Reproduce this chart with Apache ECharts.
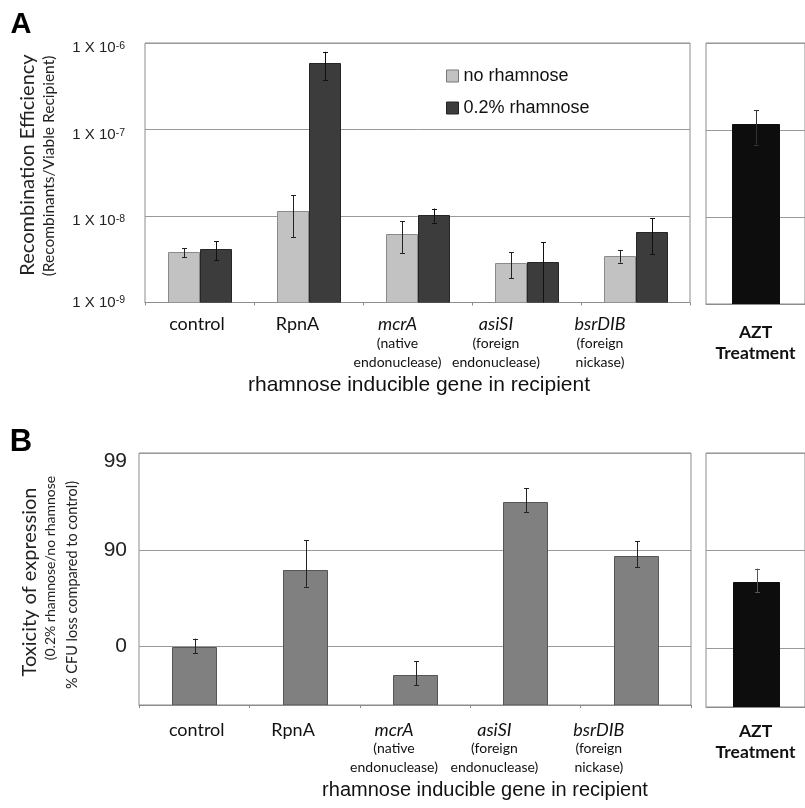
<!DOCTYPE html>
<html><head><meta charset="utf-8">
<script src="https://cdn.jsdelivr.net/npm/echarts@6/dist/echarts.min.js"></script>
<style>html,body{margin:0;padding:0;background:#fff}#c{width:805px;height:808px}</style>
</head><body><div id="c"></div>
<script>
// ---------- data ----------
const categories = ['control', 'RpnA', 'mcrA', 'asiSI', 'bsrDIB'];
const subtitles = [[], [], ['(native', 'endonuclease)'], ['(foreign', 'endonuclease)'], ['(foreign', 'nickase)']];
const italicCats = [false, false, true, true, true];
const seriesNames = ['no rhamnose', '0.2% rhamnose'];
const noRhamnose = [3.8e-9, 1.15e-8, 6.2e-9, 2.85e-9, 3.45e-9];
const noRhamnoseErr = [0.45e-9, 5.8e-9, 2.5e-9, 0.95e-9, 0.56e-9];
const rhamnose = [4.1e-9, 5.8e-7, 1.03e-8, 2.92e-9, 6.5e-9];
const rhamnoseErr = [1.0e-9, 2.1e-7, 1.9e-9, 2.05e-9, 2.9e-9];
const aztCategory = ['AZT Treatment'];
const aztRecomb = [1.18e-7];
const aztRecombErr = [0.5e-7];
const toxicity = [0, 84, -96, 96.8, 88.3];          // % CFU loss
const toxicityErr = [17.5, 8, 55, 0.9, 3.5];
const aztToxicity = [79];
const aztToxicityErr = [5.7];
const toxTicks = [99, 90, 0];
const recombExtent = [1e-9, 1e-6];
const toxLossExtent = [99, -300];

// ---------- helpers ----------
const LATO = 'Lato, "Open Sans", sans-serif';
const ARIAL = '"Liberation Sans", Arial, sans-serif';
const shiftsA = [-2.5, -11, -20, -30.5, -35.5];
const shiftsB = [2.5, -11.5, -21, -31, -37];

function buildRich(shifts) {
  const r = {};
  shifts.forEach((s, k) => {
    const pad = s < 0 ? [0, -2 * s, 0, 0] : [0, 0, 0, 2 * s];
    r['h' + k] = { fontFamily: LATO, fontSize: 18, lineHeight: 18, color: '#111',
      fontStyle: italicCats[k] ? 'italic' : 'normal', padding: pad };
    r['s' + k] = { fontFamily: LATO, fontSize: 14, lineHeight: 19, color: '#111', padding: pad };
  });
  return r;
}
function catFormatter(value, idx) {
  const k = categories.indexOf(value);
  const lines = ['{h' + k + '|' + value + '}'];
  subtitles[k].forEach(t => lines.push('{s' + k + '|' + t + '}'));
  return lines.join('\n');
}

function withErr(vals, errs) {
  return vals.map((v, k) => [k, v, v - errs[k], v + errs[k]]);
}
function toSurvival(vals, errs) {
  return vals.map((v, k) => [k, 100 - v, 100 - (v + errs[k]), 100 - (v - errs[k])]);
}

function barItem(cfg) {
  return function (params, api) {
    const i = api.value(0);
    const v = api.value(1), lo = api.value(2), hi = api.value(3);
    const band = api.size([1, 1])[0];
    const p = api.coord([i, v]);
    const b = api.coord([i, cfg.base]);
    const w = Math.round(band * cfg.width);
    const cx = p[0] + band * cfg.offset;
    const x0 = Math.round(cx - w / 2) + 0.5;
    const top = Math.round(p[1]) + 0.5;
    const children = [{
      type: 'rect',
      shape: { x: x0, y: top, width: w, height: b[1] - top },
      style: { fill: cfg.fill, stroke: cfg.stroke, lineWidth: 1 }
    }];
    let yl = api.coord([i, lo])[1], yh = api.coord([i, hi])[1];
    if (!isFinite(yl)) yl = b[1];
    if (!isFinite(yh)) yh = b[1];
    const ex = Math.round(x0 + w / 2) + 0.5;
    const es = { stroke: cfg.err, lineWidth: 1 };
    children.push({ type: 'line', shape: { x1: ex, y1: yl, x2: ex, y2: yh }, style: es });
    [yl, yh].forEach(y => {
      const yy = Math.round(y) + 0.5;
      children.push({ type: 'line', shape: { x1: ex - 2.5, y1: yy, x2: ex + 2.5, y2: yy }, style: es });
    });
    return { type: 'group', children };
  };
}

const gridStyle = { show: true, borderColor: '#8c8c8c', borderWidth: 1, backgroundColor: 'transparent', containLabel: false };
const splitLine = { show: true, lineStyle: { color: '#9a9a9a', width: 1 } };
const xTick = { show: true, length: 3, lineStyle: { color: '#8c8c8c' } };
const xLine = { show: true, lineStyle: { color: '#8c8c8c' } };

function recombLabel(v) {
  const e = Math.round(Math.log10(v));
  const t = e > -9 ? 'd' : 'c';
  return '{' + t + '|1 X 10}{' + t + 'e|' + e + '}';
}
function toxLabel(v) {
  const loss = Math.round(100 - v);
  if (toxTicks.indexOf(loss) < 0) return '';
  return loss === 99 ? '{t|' + loss + '}' : '{m|' + loss + '}';
}
const aztRich = { b: { fontFamily: LATO, fontWeight: 'bold', fontSize: 17.5, lineHeight: 21, color: '#111' } };

const option = {
  animation: false,
  backgroundColor: '#fff',
  grid: [
    Object.assign({ left: 145, top: 43, width: 545, height: 259.5 }, gridStyle),
    Object.assign({ left: 706, top: 43, width: 104, height: 261 }, gridStyle),
    Object.assign({ left: 139, top: 453, width: 552, height: 252 }, gridStyle),
    Object.assign({ left: 706, top: 453, width: 104, height: 254 }, gridStyle)
  ],
  legend: {
    orient: 'vertical', left: 441, top: 62, itemWidth: 12, itemHeight: 12, itemGap: 14,
    textStyle: { fontFamily: ARIAL, fontSize: 18, color: '#111' },
    data: [
      { name: seriesNames[0], icon: 'rect', itemStyle: { color: '#c2c2c2', borderColor: '#777', borderWidth: 1 } },
      { name: seriesNames[1], icon: 'rect', itemStyle: { color: '#3c3c3c', borderColor: '#222', borderWidth: 1 } }
    ]
  },
  xAxis: [
    { type: 'category', gridIndex: 0, data: categories, axisTick: xTick, axisLine: xLine,
      axisLabel: { interval: 0, margin: 13, formatter: catFormatter, rich: buildRich(shiftsA) } },
    { type: 'category', gridIndex: 1, data: aztCategory, axisTick: { show: false }, axisLine: xLine,
      axisLabel: { interval: 0, margin: 18, formatter: () => '{b|AZT}\n{b|Treatment}', rich: aztRich } },
    { type: 'category', gridIndex: 2, data: categories, axisTick: xTick, axisLine: xLine,
      axisLabel: { interval: 0, margin: 16, formatter: catFormatter, rich: buildRich(shiftsB) } },
    { type: 'category', gridIndex: 3, data: aztCategory, axisTick: { show: false }, axisLine: xLine,
      axisLabel: { interval: 0, margin: 14, formatter: () => '{b|AZT}\n{b|Treatment}', rich: aztRich } }
  ],
  yAxis: [
    { type: 'log', logBase: 10, gridIndex: 0, min: recombExtent[0], max: recombExtent[1],
      axisLine: { show: false }, axisTick: { show: false }, splitLine,
      axisLabel: { margin: 20, formatter: recombLabel, rich: {
        c: { fontFamily: ARIAL, fontSize: 15, color: '#222', lineHeight: 16 },
        ce: { fontFamily: ARIAL, fontSize: 10.5, color: '#222', lineHeight: 10, verticalAlign: 'top' },
        d: { fontFamily: ARIAL, fontSize: 15, color: '#222', lineHeight: 16, padding: [10, 0, 0, 0] },
        de: { fontFamily: ARIAL, fontSize: 10.5, color: '#222', lineHeight: 10, verticalAlign: 'top', padding: [6, 0, 0, 0] }
      } } },
    { type: 'log', logBase: 10, gridIndex: 1, min: recombExtent[0], max: recombExtent[1],
      axisLine: { show: false }, axisTick: { show: false }, splitLine, axisLabel: { show: false } },
    { type: 'log', logBase: 10, gridIndex: 2, inverse: true, min: 100 - toxLossExtent[0], max: 100 - toxLossExtent[1],
      axisLine: { show: false }, axisTick: { show: false }, splitLine,
      axisLabel: { margin: 12, formatter: toxLabel, rich: {
        m: { fontFamily: ARIAL, fontSize: 21, color: '#222' },
        t: { fontFamily: ARIAL, fontSize: 21, color: '#222', padding: [16, 0, 0, 0] }
      } } },
    { type: 'log', logBase: 10, gridIndex: 3, inverse: true, min: 100 - toxLossExtent[0], max: 100 - toxLossExtent[1],
      axisLine: { show: false }, axisTick: { show: false }, splitLine, axisLabel: { show: false } }
  ],
  series: [
    { name: seriesNames[0], type: 'custom', xAxisIndex: 0, yAxisIndex: 0, clip: true, encode: { x: 0, y: 1 },
      itemStyle: { color: '#c2c2c2' },
      renderItem: barItem({ base: recombExtent[0], width: 0.285, offset: -0.1425, fill: '#c2c2c2', stroke: '#8a8a8a', err: '#222' }),
      data: withErr(noRhamnose, noRhamnoseErr) },
    { name: seriesNames[1], type: 'custom', xAxisIndex: 0, yAxisIndex: 0, clip: true, encode: { x: 0, y: 1 },
      itemStyle: { color: '#3c3c3c' },
      renderItem: barItem({ base: recombExtent[0], width: 0.285, offset: 0.1425, fill: '#3c3c3c', stroke: '#262626', err: '#111' }),
      data: withErr(rhamnose, rhamnoseErr) },
    { name: 'AZT recombination', type: 'custom', xAxisIndex: 1, yAxisIndex: 1, clip: true, encode: { x: 0, y: 1 },
      renderItem: barItem({ base: recombExtent[0], width: 0.47, offset: 0, fill: '#0d0d0d', stroke: '#0d0d0d', err: '#333' }),
      data: withErr(aztRecomb, aztRecombErr) },
    { name: 'toxicity', type: 'custom', xAxisIndex: 2, yAxisIndex: 2, clip: true, encode: { x: 0, y: 1 },
      renderItem: barItem({ base: 100 - toxLossExtent[1], width: 0.40, offset: 0, fill: '#808080', stroke: '#555', err: '#222' }),
      data: toSurvival(toxicity, toxicityErr) },
    { name: 'AZT toxicity', type: 'custom', xAxisIndex: 3, yAxisIndex: 3, clip: true, encode: { x: 0, y: 1 },
      renderItem: barItem({ base: 100 - toxLossExtent[1], width: 0.46, offset: 0, fill: '#0d0d0d', stroke: '#0d0d0d', err: '#555' }),
      data: toSurvival(aztToxicity, aztToxicityErr) }
  ],
  graphic: [
    { type: 'text', x: 21, y: 25, style: { text: 'A', font: 'bold 29px ' + ARIAL, fill: '#000', textAlign: 'center', textVerticalAlign: 'middle' } },
    { type: 'text', x: 21, y: 442, style: { text: 'B', font: 'bold 31px ' + ARIAL, fill: '#000', textAlign: 'center', textVerticalAlign: 'middle' } },
    { type: 'text', x: 28, y: 165, rotation: Math.PI / 2, style: { text: 'Recombination Efficiency', font: '20px ' + LATO, fill: '#222', textAlign: 'center', textVerticalAlign: 'middle' } },
    { type: 'text', x: 49, y: 166, rotation: Math.PI / 2, style: { text: '(Recombinants/Viable Recipient)', font: '15.5px ' + LATO, fill: '#222', textAlign: 'center', textVerticalAlign: 'middle' } },
    { type: 'text', x: 30, y: 582, rotation: Math.PI / 2, style: { text: 'Toxicity of expression', font: '20px ' + LATO, fill: '#222', textAlign: 'center', textVerticalAlign: 'middle' } },
    { type: 'text', x: 50, y: 568, rotation: Math.PI / 2, style: { text: '(0.2% rhamnose/no rhamnose', font: '14px ' + LATO, fill: '#222', textAlign: 'center', textVerticalAlign: 'middle' } },
    { type: 'text', x: 72, y: 585, rotation: Math.PI / 2, style: { text: '% CFU loss compared to control)', font: '14.5px ' + LATO, fill: '#222', textAlign: 'center', textVerticalAlign: 'middle' } },
    { type: 'text', x: 419, y: 385, style: { text: 'rhamnose inducible gene in recipient', font: '21px ' + ARIAL, fill: '#111', textAlign: 'center', textVerticalAlign: 'middle' } },
    { type: 'text', x: 485, y: 790, style: { text: 'rhamnose inducible gene in recipient', font: '20px ' + ARIAL, fill: '#111', textAlign: 'center', textVerticalAlign: 'middle' } }
  ]
};
const chart = echarts.init(document.getElementById('c'), null, { renderer: 'canvas' });
chart.setOption(option);
</script>
</body></html>
